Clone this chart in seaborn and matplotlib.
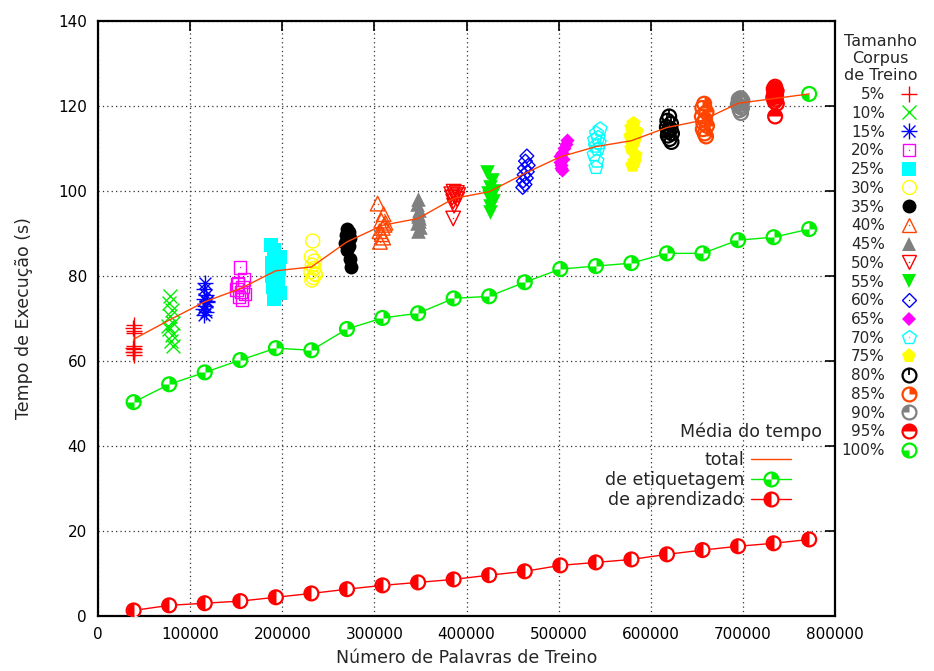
import matplotlib
matplotlib.use("Agg")
import matplotlib.pyplot as plt
from matplotlib.path import Path
from matplotlib.lines import Line2D
from matplotlib.legend_handler import HandlerTuple
import pandas as pd
import seaborn as sns

# ---- data ---------------------------------------------------------------
percentuais = ["5%", "10%", "15%", "20%", "25%", "30%", "35%", "40%", "45%", "50%",
               "55%", "60%", "65%", "70%", "75%", "80%", "85%", "90%", "95%", "100%"]

# words in each training sample (10 samples per corpus size, 1 for 100%)
palavras = [
    [38600, 38300, 38900, 38500, 38700, 38200, 38800, 38400, 38600, 39000],
    [78500, 76500, 80500, 78000, 81000, 77000, 80000, 78800, 81500, 76000],
    [116500, 114500, 117500, 115000, 118000, 116000, 114000, 117000, 115500, 118500],
    [154000, 158500, 152000, 157000, 150500, 155000, 159500, 153000, 156500, 151500],
    [188000, 191000, 197000, 189000, 196000, 188500, 195500, 190000, 197500, 191500],
    [233000, 231500, 235000, 232500, 234500, 231000, 236000, 233500, 232000, 235500],
    [270000, 272500, 269500, 273500, 271000, 268500, 272000, 270500, 273000, 274500],
    [303500, 310000, 307500, 311000, 309000, 305500, 308000, 309500, 306000, 312000],
    [347500, 346500, 348500, 347000, 348000, 346000, 349000, 347500, 346800, 348200],
    [386000, 389500, 383500, 391000, 387000, 384500, 390000, 385500, 386500, 385500],
    [422500, 428000, 425000, 429500, 423500, 427000, 424000, 428500, 425500, 426000],
    [465500, 464000, 467000, 463000, 466000, 462500, 465000, 461500, 463500, 461000],
    [509000, 507500, 506000, 503500, 502000, 504500, 501000, 503000, 502500, 504000],
    [545000, 541000, 543000, 539000, 544000, 540000, 542500, 538500, 541500, 540500],
    [581000, 579000, 583500, 577500, 582000, 580000, 578500, 583000, 581500, 579500],
    [620000, 618000, 622000, 617500, 621500, 619000, 623000, 618500, 620500, 622500],
    [658000, 656000, 660500, 655500, 659000, 657000, 661000, 656500, 658500, 660000],
    [697500, 695500, 699500, 696000, 698500, 694500, 697000, 699000, 696500, 698000],
    [735000, 733500, 736500, 734000, 736000, 733000, 735500, 734500, 736800, 735000],
    [772000],
]

# total execution time of each sample (s)
tempos = [
    [68.5, 67.8, 66.5, 63.5, 62.8, 62.0, 61.5, 63.0, 67.0, 62.2],
    [75.3, 73.6, 72.0, 70.5, 69.0, 67.5, 66.0, 64.6, 63.5, 68.2],
    [78.3, 76.8, 75.5, 74.5, 73.8, 73.0, 72.3, 71.5, 70.8, 74.0],
    [82.0, 79.2, 78.2, 77.4, 76.8, 76.2, 75.7, 75.0, 74.5, 78.0],
    [87.3, 86.0, 84.5, 83.0, 81.5, 80.0, 79.0, 77.5, 76.0, 74.5],
    [88.2, 84.5, 83.5, 82.5, 81.8, 81.0, 80.3, 79.6, 79.0, 80.5],
    [91.0, 90.3, 89.6, 89.0, 88.4, 87.8, 87.0, 86.0, 84.0, 82.0],
    [97.0, 94.5, 93.0, 92.0, 91.3, 90.5, 89.8, 89.0, 88.0, 92.5],
    [98.0, 96.8, 95.5, 94.5, 93.5, 92.5, 91.5, 90.5, 94.0, 93.0],
    [99.8, 99.5, 99.2, 99.0, 98.7, 98.4, 98.0, 97.5, 96.5, 93.5],
    [104.5, 102.5, 101.0, 100.0, 99.5, 99.0, 98.5, 97.5, 96.5, 95.0],
    [108.2, 107.0, 106.0, 105.3, 104.5, 103.8, 103.0, 102.3, 101.5, 100.8],
    [112.0, 111.0, 110.0, 109.0, 108.3, 107.5, 106.8, 106.0, 105.3, 104.8],
    [114.5, 113.5, 112.5, 112.0, 111.3, 110.5, 109.8, 108.5, 107.0, 105.5],
    [116.0, 115.0, 114.0, 113.0, 112.0, 111.0, 110.0, 108.5, 107.0, 106.0],
    [117.5, 116.5, 115.8, 115.0, 114.5, 114.0, 113.5, 113.0, 112.2, 111.5],
    [120.5, 119.5, 118.5, 117.5, 116.8, 116.0, 115.3, 114.5, 113.5, 112.8],
    [121.8, 121.5, 121.2, 120.9, 120.6, 120.3, 119.9, 119.5, 119.0, 118.3],
    [124.5, 124.0, 123.5, 123.0, 122.5, 122.0, 121.5, 121.0, 120.5, 117.5],
    [122.8],
]

# mean times per corpus size
palavras_media = [38600, 77200, 115800, 154400, 193000, 231600, 270200, 308800,
                  347400, 386000, 424600, 463200, 501800, 540400, 579000, 617600,
                  656200, 694800, 733400, 772000]
tempo_total = [65.1, 69.6, 73.9, 77.0, 81.2, 82.1, 88.0, 91.9, 93.5, 98.2,
               99.8, 104.1, 108.0, 110.4, 111.8, 114.9, 116.6, 120.6, 121.7, 122.8]
tempo_etiquetagem = [50.3, 54.5, 57.3, 60.2, 63.0, 62.5, 67.5, 70.1, 71.2, 74.7,
                     75.2, 78.5, 81.6, 82.3, 83.0, 85.3, 85.3, 88.4, 89.1, 91.0]
tempo_aprendizado = [1.3, 2.5, 3.0, 3.5, 4.4, 5.3, 6.3, 7.2, 7.9, 8.6,
                     9.6, 10.5, 11.9, 12.6, 13.3, 14.5, 15.5, 16.4, 17.1, 18.0]

# ---- style --------------------------------------------------------------
sns.set_style("white")
plt.rcParams["font.family"] = ["DejaVu Sans"]
plt.rcParams["font.size"] = 11

VERMELHO, VERDE, AZUL = "#ff0000", "#00ee00", "#0000ff"
MAGENTA, CIANO, AMARELO = "#ff00ff", "#00ffff", "#ffff00"
PRETO, LARANJA, CINZA = "#000000", "#ff4500", "#808080"
cores = [VERMELHO, VERDE, AZUL, MAGENTA, CIANO, AMARELO, PRETO, LARANJA, CINZA,
         VERMELHO, VERDE, AZUL, MAGENTA, CIANO, AMARELO, PRETO, LARANJA, CINZA,
         VERMELHO, VERDE]

haste = Path([(0, 0), (0, 1)], [Path.MOVETO, Path.LINETO])


def quadrantes(*faixas):
    verts, codes = [], []
    for a, b in faixas:
        w = Path.wedge(a, b)
        verts += list(w.vertices)
        codes += list(w.codes)
    return Path(verts, codes)


# marker layers per corpus size: (marker, face, edge, size in points, linewidth)
def camadas(i, cor):
    lw = 1.0
    aberto = lambda m, sz: [(m, "none", cor, sz, lw), (".", cor, cor, 2.0, 0)]
    cheio = lambda m, sz: [(m, cor, cor, sz, 0)]
    circ = 10

    def quarto(faixas):
        return [("o", "white", cor, circ, 0), (quadrantes(*faixas), cor, cor, circ, 0),
                ("o", "none", cor, circ, 1.6)]

    tipos = {
        0: [("+", cor, cor, 11, lw)],
        1: [("x", cor, cor, 10, lw)],
        2: [("+", cor, cor, 11, lw), ("x", cor, cor, 8.5, lw)],
        3: aberto("s", 9),
        4: cheio("s", 9.5),
        5: aberto("o", 10),
        6: cheio("o", 10),
        7: aberto("^", 10.5),
        8: cheio("^", 10.5),
        9: aberto("v", 10.5),
        10: cheio("v", 10.5),
        11: aberto("D", 7),
        12: cheio("D", 7.2),
        13: aberto("p", 10.5),
        14: cheio("p", 11),
        15: [("o", "white", cor, circ, 0), (haste, "none", cor, circ, 1.3),
             ("o", "none", cor, circ, 1.6)],
        16: quarto([(0, 90)]),
        17: quarto([(90, 180)]),
        18: quarto([(0, 180)]),
        19: quarto([(180, 270)]),
    }
    return tipos[i]


fig, ax = plt.subplots(figsize=(9.34, 6.71), dpi=100)
fig.subplots_adjust(left=0.105, right=0.894, top=0.969, bottom=0.082)

handles_corpus = []
for i, rotulo in enumerate(percentuais):
    df = pd.DataFrame({"palavras": palavras[i], "tempo": tempos[i]})
    partes = []
    for (m, fc, ec, sz, lw) in camadas(i, cores[i]):
        sns.scatterplot(data=df, x="palavras", y="tempo", ax=ax, marker=m,
                        s=sz ** 2, color=cores[i], facecolor=fc, edgecolor=ec,
                        linewidth=lw, zorder=3, legend=False)
        partes.append(Line2D([], [], linestyle="none", marker=m, markersize=sz,
                             markerfacecolor=fc, markeredgecolor=ec,
                             markeredgewidth=lw))
    handles_corpus.append(tuple(partes))

# mean curves
medias = pd.DataFrame({"palavras": palavras_media, "total": tempo_total,
                       "etiquetagem": tempo_etiquetagem,
                       "aprendizado": tempo_aprendizado})

sns.lineplot(data=medias, x="palavras", y="total", ax=ax, color=LARANJA,
             linewidth=1.0, zorder=5, legend=False)


def media_com_marcador(coluna, cor, faixas):
    sns.lineplot(data=medias, x="palavras", y=coluna, ax=ax, color=cor,
                 linewidth=1.0, zorder=4, legend=False)
    sz = 10
    camadas_m = [("o", "white", cor, sz, 0), (quadrantes(*faixas), cor, cor, sz, 0),
                 ("o", "none", cor, sz, 1.6)]
    partes = [Line2D([], [], color=cor, linewidth=1.0)]
    for (m, fc, ec, s_, lw) in camadas_m:
        sns.scatterplot(data=medias, x="palavras", y=coluna, ax=ax, marker=m,
                        s=s_ ** 2, color=cor, facecolor=fc, edgecolor=ec,
                        linewidth=lw, zorder=4.5, legend=False)
        partes.append(Line2D([], [], linestyle="none", marker=m, markersize=s_,
                             markerfacecolor=fc, markeredgecolor=ec,
                             markeredgewidth=lw))
    return tuple(partes)


h_etiq = media_com_marcador("etiquetagem", VERDE, [(0, 90), (180, 270)])
h_apr = media_com_marcador("aprendizado", VERMELHO, [(90, 270)])
h_total = Line2D([], [], color=LARANJA, linewidth=1.0)

# ---- axes ---------------------------------------------------------------
ax.set_xlim(0, 800000)
ax.set_ylim(0, 140)
ax.set_xticks(range(0, 800001, 100000))
ax.set_yticks(range(0, 141, 20))
ax.set_xlabel("Número de Palavras de Treino", fontsize=12.5, labelpad=5)
ax.set_ylabel("Tempo de Execução (s)", fontsize=12.5, labelpad=18)
ax.tick_params(direction="in", length=7, width=1.2, top=True, right=True,
               labelsize=11, pad=8, colors="black")
ax.grid(True, linestyle=(0, (1, 2.5)), color="#333333", linewidth=0.9)
for sp in ax.spines.values():
    sp.set_linewidth(1.6)
    sp.set_color("black")
ax.set_axisbelow(True)

leg1 = ax.legend(handles_corpus, percentuais, handler_map={tuple: HandlerTuple(ndivide=1)},
                 title="Tamanho\nCorpus\nde Treino", markerfirst=False, frameon=False,
                 loc="upper right", bbox_to_anchor=(0.985, 0.950),
                 bbox_transform=fig.transFigure, fontsize=11, title_fontsize=11.5,
                 labelspacing=0.245, handlelength=1.4, handletextpad=0.9,
                 borderaxespad=0, borderpad=0)
leg1.get_title().set_multialignment("center")
leg1._legend_box.align = "center"
ax.add_artist(leg1)

ax.text(0.982, 0.309, "Média do tempo", transform=ax.transAxes, ha="right",
        va="center", fontsize=12.5)
leg2 = ax.legend([h_total, h_etiq, h_apr],
                 ["total", "de etiquetagem", "de aprendizado"],
                 handler_map={tuple: HandlerTuple(ndivide=1)}, markerfirst=False,
                 frameon=False, loc="upper right", bbox_to_anchor=(0.94, 0.277),
                 fontsize=12.5, labelspacing=0.1, handlelength=2.3,
                 handletextpad=0.4, borderpad=0, borderaxespad=0, numpoints=1)

fig.savefig("out.png", dpi=100)
